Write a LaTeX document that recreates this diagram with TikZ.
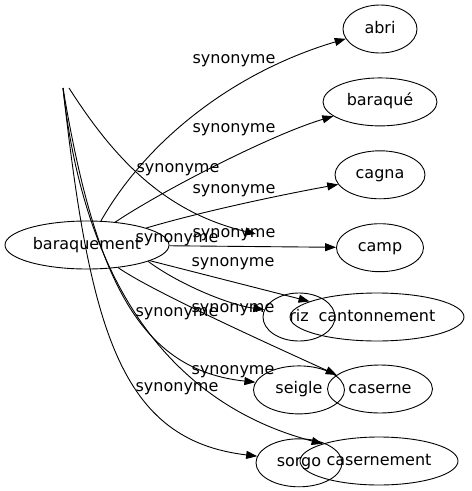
\documentclass[tikz,border=0pt]{standalone}
\usepackage{fontspec}
\setmainfont{DejaVu Sans}
\usetikzlibrary{shapes.geometric, arrows.meta, positioning}

\begin{document}
\begin{tikzpicture}[x=1pt, y=-1pt, every node/.style={font=\fontsize{16}{19}\selectfont}]
      \tikzset{
        term/.style={ellipse, draw=black, line width=0.9pt, inner sep=0pt, minimum height=48pt, text height=11.5pt, text depth=3.5pt},
        lbl/.style={inner sep=0pt, text height=11.5pt, text depth=3.5pt},
        line/.style={-{Triangle[length=11pt, width=8pt]}, line width=0.9pt, color=black}
      }
      \useasboundingbox (0,0) rectangle (472,491);

      % Nodes
      \node[term, minimum width=164pt] (baraquement) at (87,245) {baraquement};
      \node[term, minimum width=74pt] (abri) at (380,29) {abri};
      \node[term, minimum width=114pt, below=24pt of abri] (baraque) {baraqué};
      \node[term, minimum width=90pt, below=24pt of baraque] (cagna) {cagna};
      \node[term, minimum width=87pt, below=24pt of cagna] (camp) {camp};

      \node[term, minimum width=72pt] (riz) at (299,317) {riz};
      \node[term, minimum width=91pt, below=24pt of riz] (seigle) {seigle};
      \node[term, minimum width=86pt, below=24pt of seigle] (sorgo) {sorgo};

      \node[term, minimum width=174pt] (cantonnement) at (377,317) {cantonnement};
      \node[term, minimum width=105pt] (caserne) at (380,389) {caserne};
      \node[term, minimum width=158pt] (casernement) at (379,461) {casernement};

      \coordinate (src) at (63,88);
      \coordinate (src2) at (69,88);
      \coordinate (ghost) at (256,234);

      % Labels
      \node[lbl] (l1) at (234,59) {synonyme};
      \node[lbl] (l2) at (234,128) {synonyme};
      \node[lbl] (l3) at (178,168) {synonyme};
      \node[lbl] (l4) at (234,189) {synonyme};
      \node[lbl] (l5) at (177,238) {synonyme};
      \node[lbl] (l6) at (234,233) {synonyme};
      \node[lbl] (l7) at (233,262) {synonyme};
      \node[lbl] (l8) at (177,312) {synonyme};
      \node[lbl] (l9) at (233,308) {synonyme};
      \node[lbl] (l10) at (233,370) {synonyme};
      \node[lbl] (l11) at (177,387) {synonyme};

      % Connections
      \draw[line] (baraquement.60) .. controls (150,135) and (240,70) .. (abri.196);
      \draw[line] (baraquement.39) .. controls (160,192) and (270,135) .. (baraque.197);
      \draw[line] (baraquement.16) .. controls (200,212) and (280,195) .. (cagna.193);
      \draw[line] (baraquement) -- (camp);
      \draw[line] (baraquement.-14) -- (cantonnement.167);
      \draw[line] (baraquement.-15) .. controls (180,285) and (230,305) .. (riz.168);
      \draw[line] (baraquement.-36) .. controls (150,290) and (260,340) .. (caserne.162);
      \draw[line] (src2) .. controls (115,160) and (165,212) .. (ghost);
      \draw[line] (src) .. controls (95,280) and (140,370) .. (seigle.170);
      \draw[line] (src) .. controls (85,290) and (175,405) .. (casernement.163);
      \draw[line] (src) .. controls (90,330) and (120,440) .. (sorgo.171);

    \end{tikzpicture}
\end{document}
